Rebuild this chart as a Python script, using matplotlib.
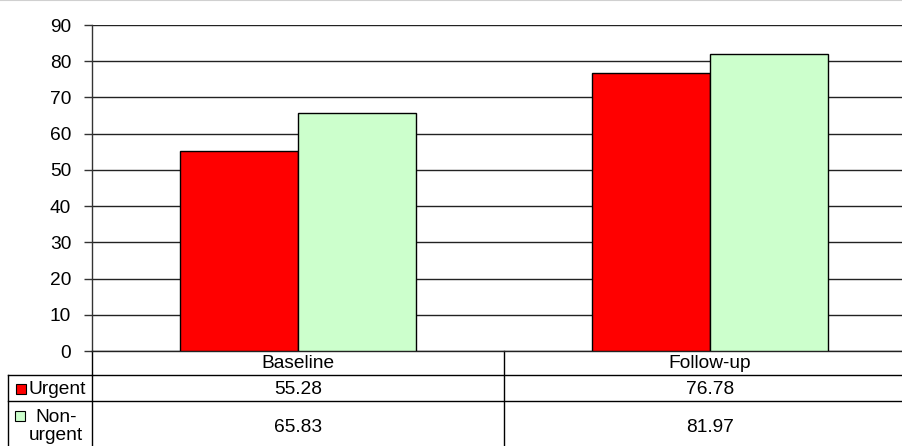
import matplotlib

matplotlib.use("Agg")
import matplotlib.pyplot as plt
import matplotlib.transforms as mtransforms
from matplotlib.lines import Line2D

plt.rcParams["font.family"] = ["Liberation Sans", "DejaVu Sans"]

categories = ["Baseline", "Follow-up"]
series_names = ["Urgent", "Non-\nurgent"]
urgent = [55.28, 76.78]
non_urgent = [65.83, 81.97]
yticks = [0, 10, 20, 30, 40, 50, 60, 70, 80, 90]

RED = "#FF0000"
GREEN = "#CCFFCC"
FS = 13.8

W, H = 903, 446
fig = plt.figure(figsize=(W / 100, H / 100), dpi=100)

# plot area in pixels: x 92..916 (runs slightly past the right edge), y 25..351
ax_l, ax_r, ax_t, ax_b = 92, 916, 25, 351
ax = fig.add_axes([ax_l / W, (H - ax_b) / H, (ax_r - ax_l) / W, (ax_b - ax_t) / H])
ax_h_px = ax_b - ax_t
ax_w_px = ax_r - ax_l

x = list(range(len(categories)))
bw = 0.286
ax.bar([i - bw / 2 for i in x], urgent, width=bw, color=RED, edgecolor="black", linewidth=1, zorder=3)
ax.bar([i + bw / 2 for i in x], non_urgent, width=bw, color=GREEN, edgecolor="black", linewidth=1, zorder=3)

ax.set_xlim(-0.5, len(categories) - 0.5)
ax.set_ylim(0, 90)
ax.set_yticks(yticks)
ax.set_yticklabels([str(t) for t in yticks], fontsize=FS)
ax.tick_params(axis="y", length=6, width=1, color="#333333", pad=9)
ax.set_xticks([])
ax.yaxis.grid(True, color="#222222", linewidth=1, zorder=0)
for side in ["top", "right"]:
    ax.spines[side].set_visible(False)
ax.spines["left"].set_color("#333333")
ax.spines["bottom"].set_color("#222222")
ax.spines["left"].set_linewidth(1)
ax.spines["bottom"].set_linewidth(1)

# data table under the axis: x in data units, y in axes fraction
trans = mtransforms.blended_transform_factory(ax.transData, ax.transAxes)


def yfrac(px_below):
    return -px_below / ax_h_px


def xdata(px):
    return -0.5 + (px - ax_l) / ax_w_px * len(categories)


left_edge = xdata(8)
line_kw = dict(color="black", linewidth=1, transform=trans, clip_on=False)
ax.add_line(Line2D([-0.5, 1.5], [yfrac(24)] * 2, **line_kw))
ax.add_line(Line2D([left_edge, 1.5], [yfrac(50)] * 2, **line_kw))
ax.add_line(Line2D([-0.5, -0.5], [0, yfrac(120)], **line_kw))
ax.add_line(Line2D([0.5, 0.5], [0, yfrac(120)], **line_kw))
ax.add_line(Line2D([left_edge, left_edge], [yfrac(24), yfrac(120)], **line_kw))
ax.add_line(Line2D([left_edge, -0.5], [yfrac(24), yfrac(24)], **line_kw))

for i, cat in enumerate(categories):
    ax.text(i, yfrac(12), cat, transform=trans, ha="center", va="center", fontsize=FS)
    ax.text(i, yfrac(38.5), f"{urgent[i]:.2f}", transform=trans, ha="center", va="center", fontsize=FS)
    ax.text(i, yfrac(76), f"{non_urgent[i]:.2f}", transform=trans, ha="center", va="center", fontsize=FS)

# legend keys in the row header column
ax.plot([xdata(20.5)], [yfrac(38)], marker="s", markersize=7.2, color=RED, markeredgecolor="black",
        markeredgewidth=0.8, transform=trans, clip_on=False)
ax.plot([xdata(20)], [yfrac(65)], marker="s", markersize=7.0, color=GREEN,
        markeredgecolor="black", markeredgewidth=0.8, transform=trans, clip_on=False)
ax.text(xdata(29), yfrac(38.5), series_names[0], transform=trans,
        ha="left", va="center", fontsize=FS)
ax.text(xdata(56), yfrac(75.5), series_names[1], transform=trans,
        ha="center", va="center", fontsize=FS, linespacing=1.15)

# thin light rule along the top edge
fig.add_artist(Line2D([0, 1], [0.999, 0.999], color="#d0d0d0", linewidth=1.5, transform=fig.transFigure))

fig.savefig("out.png", dpi=100)
